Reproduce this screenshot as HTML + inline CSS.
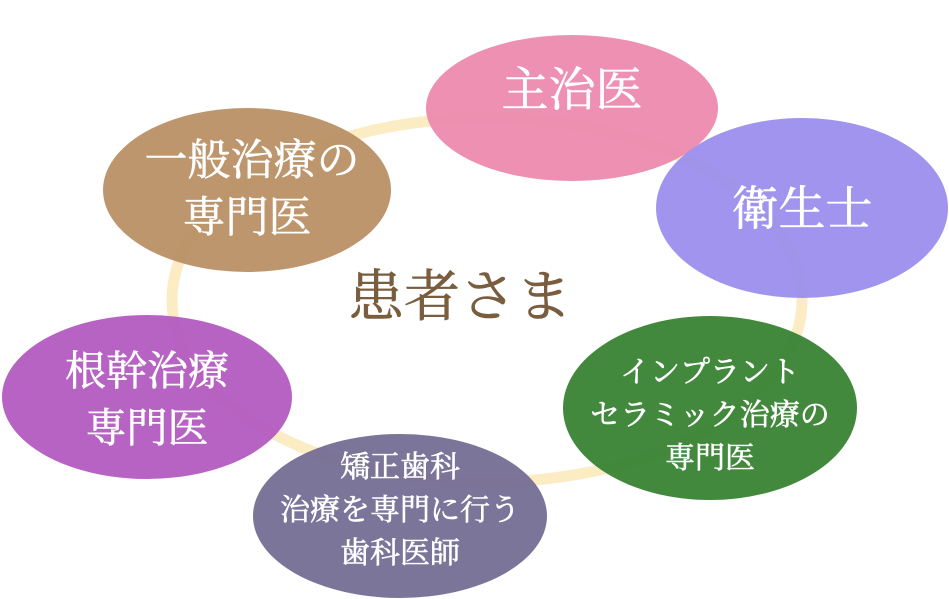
<!DOCTYPE html>
<html><head><meta charset="utf-8"><style>
html,body{margin:0;padding:0;background:#fff;}
svg{display:block;}
text{font-family:"Liberation Serif","Noto Serif CJK SC",serif;fill:#fff;text-anchor:middle;stroke:#fff;stroke-width:0.6;}
</style></head><body>
<svg width="949" height="599" viewBox="0 0 949 599" xmlns="http://www.w3.org/2000/svg">
<ellipse cx="487" cy="300" rx="315" ry="182" fill="none" stroke="#fcecc4" stroke-width="11"/>
<g fill-opacity="0.93">
<ellipse cx="572" cy="108" rx="146" ry="73" fill="#ec88ac"/>
<ellipse cx="802" cy="208" rx="146" ry="90" fill="#998ced"/>
<ellipse cx="247" cy="190" rx="144" ry="82" fill="#b88e63"/>
<ellipse cx="147" cy="397" rx="145" ry="82" fill="#b157c0"/>
<ellipse cx="400" cy="516" rx="147" ry="82" fill="#716a92"/>
<ellipse cx="710" cy="408" rx="147" ry="92" fill="#34802f"/>
</g>
<text x="460" y="316" font-size="56" style="fill:#7a5c3e;stroke:#7a5c3e">患者さま</text>
<text x="572" y="106" font-size="47">主治医</text>
<text x="802" y="225" font-size="47">衛生士</text>
<text x="252" y="175" font-size="43">一般治療の</text>
<text x="247" y="232" font-size="43">専門医</text>
<text x="147" y="385" font-size="41">根幹治療</text>
<text x="147" y="442" font-size="41">専門医</text>
<text x="400" y="477" font-size="30">矯正歯科</text>
<text x="400" y="520" font-size="30">治療を専門に行う</text>
<text x="400" y="563" font-size="30">歯科医師</text>
<text x="710" y="382" font-size="30">インプラント</text>
<text x="710" y="425" font-size="30">セラミック治療の</text>
<text x="710" y="468" font-size="30">専門医</text>
</svg>
</body></html>
